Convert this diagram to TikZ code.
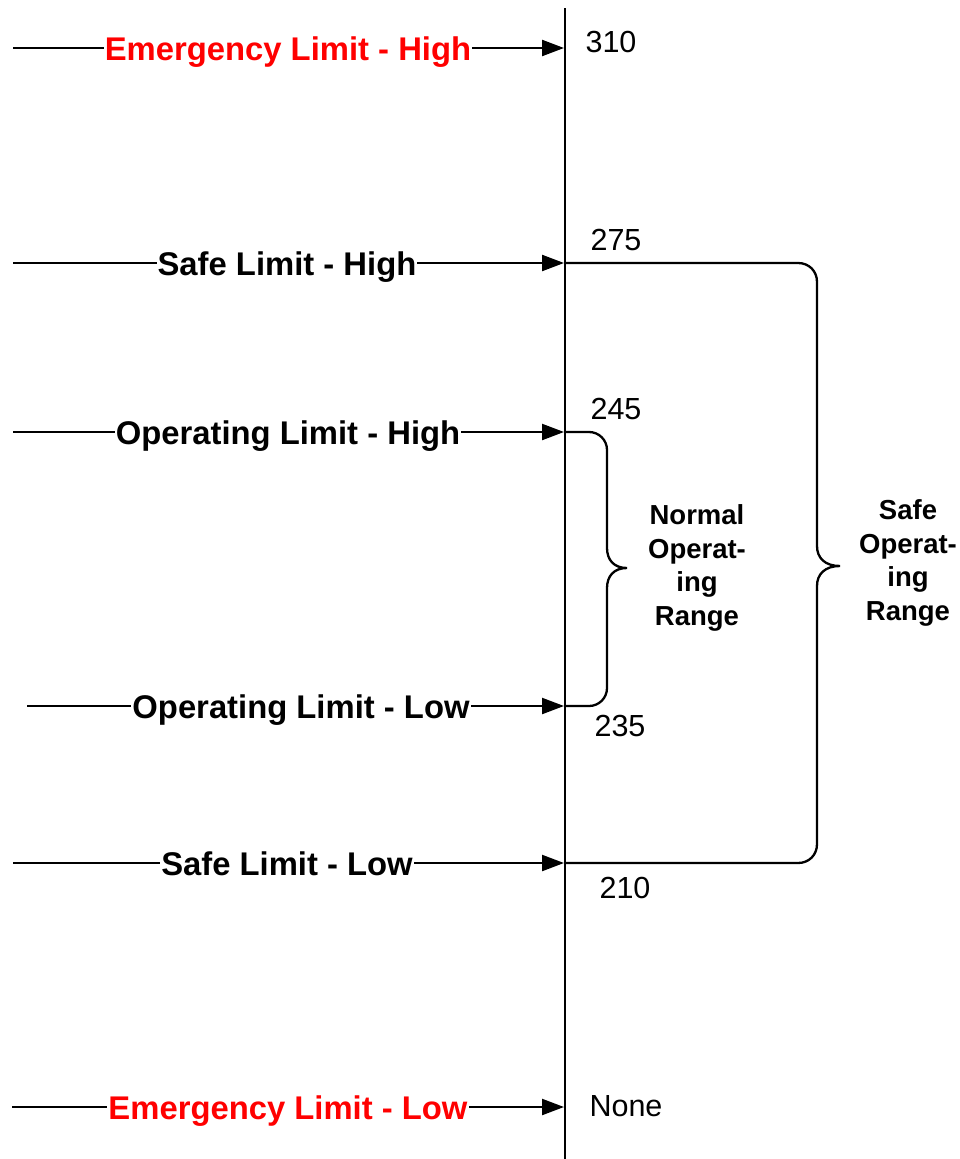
\documentclass[tikz,border=0pt]{standalone}
\usepackage{fontspec}
\setmainfont{Liberation Sans}
\usetikzlibrary{arrows.meta}
\definecolor{limred}{RGB}{255,0,0}
\tikzset{
  conn/.style={line width=2.3pt,-{Triangle[length=22pt,width=16pt]}},
  axisline/.style={line width=2.6pt},
  bracepath/.style={line width=2.3pt},
  lbl/.style={fill=white,inner xsep=1pt,inner ysep=0pt,anchor=base,font=\fontsize{32.8}{38}\selectfont\bfseries},
  redlbl/.style={lbl,text=limred},
  num/.style={inner sep=0pt,font=\fontsize{30.5}{36}\selectfont},
  rng/.style={inner sep=0pt,align=center,font=\fontsize{27.5}{33.7}\selectfont\bfseries}
}
\begin{document}
\begin{tikzpicture}[x=1pt,y=-1pt]
\useasboundingbox (0,0) rectangle (960,1159);
% axis
\coordinate (atop) at (565,8);
\coordinate (abot) at (565,1159);
\draw[axisline] (atop) -- (abot);
% arrow starts and ends
\coordinate (s1) at (13,48);   \coordinate (e1) at (564,48);
\coordinate (s2) at (13,263);  \coordinate (e2) at (564,263);
\coordinate (s3) at (13,432);  \coordinate (e3) at (564,432);
\coordinate (s4) at (27,706);  \coordinate (e4) at (564,706);
\coordinate (s5) at (13,863);  \coordinate (e5) at (564,863);
\coordinate (s6) at (12,1107); \coordinate (e6) at (564,1107);
\draw[conn] (s1) -- (e1);
\draw[conn] (s2) -- (e2);
\draw[conn] (s3) -- (e3);
\draw[conn] (s4) -- (e4);
\draw[conn] (s5) -- (e5);
\draw[conn] (s6) -- (e6);
% labels
\node[redlbl] (l1) at (288,60) {Emergency Limit - High};
\node[lbl] (l2) at (287,275) {Safe Limit - High};
\node[lbl] (l3) at (288,444) {Operating Limit - High};
\node[lbl] (l4) at (301,718) {Operating Limit - Low};
\node[lbl] (l5) at (287,875) {Safe Limit - Low};
\node[redlbl] (l6) at (288,1119) {Emergency Limit - Low};
% numbers
\node[num] (n1) at (611,42) {310};
\node[num] (n2) at (616,240) {275};
\node[num] (n3) at (616,409) {245};
\node[num] (n4) at (620,726) {235};
\node[num] (n5) at (625,888) {210};
\node[num] (n6) at (626,1106) {None};
% normal operating brace
\draw[bracepath] (e3) -- (589,432) .. controls (599,432) and (607,440) .. (607,450)
  -- (607,548) .. controls (607,560) and (614,568) .. (627,568)
  .. controls (614,568) and (607,576) .. (607,588)
  -- (607,688) .. controls (607,698) and (599,706) .. (589,706) -- (e4);
% safe operating brace
\draw[bracepath] (e2) -- (798,263) .. controls (809,263) and (817,271) .. (817,282)
  -- (817,546) .. controls (817,558) and (825,566) .. (840,566)
  .. controls (825,566) and (817,574) .. (817,586)
  -- (817,844) .. controls (817,855) and (809,863) .. (798,863) -- (e5);
% range labels
\node[rng] (r1) at (697,568) {Normal\\Operat-\\ing\\Range};
\node[rng] (r2) at (908,563) {Safe\\Operat-\\ing\\Range};
\end{tikzpicture}
\end{document}
